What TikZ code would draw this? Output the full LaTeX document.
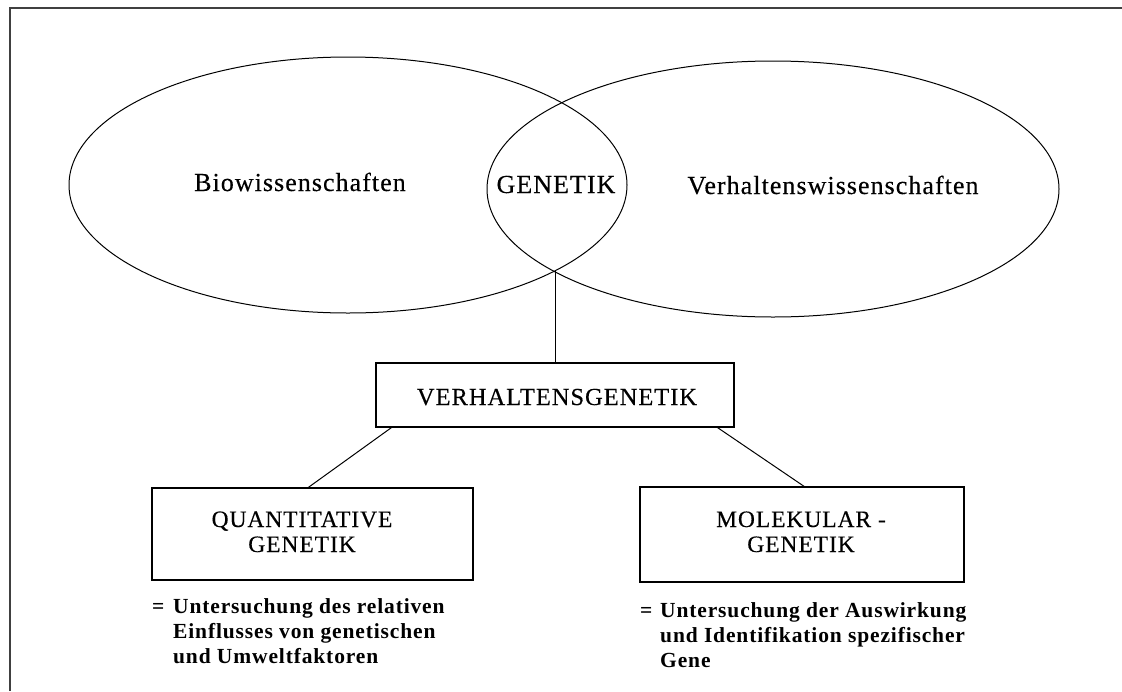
\documentclass[tikz,border=0pt]{standalone}
\usepackage{fontspec}
\setmainfont{Liberation Serif}
\usetikzlibrary{shapes.geometric}
\begin{document}
\begin{tikzpicture}[x=1pt,y=-1pt,
  frame/.style={line width=1.6pt, draw=black!75},
  venn/.style={ellipse, draw, line width=1pt, inner sep=0pt},
  lbl/.style={anchor=base, inner sep=0pt, font=\fontsize{26}{28}\selectfont\addfontfeature{LetterSpace=4,FakeBold=0.3}},
  boxnode/.style={draw, line width=1.4pt, inner sep=0pt},
  boxtext/.style={align=center, inner sep=0pt, font=\fontsize{23.5}{25}\selectfont\addfontfeature{LetterSpace=4,FakeBold=0.3}},
  link/.style={line width=1pt},
  desc/.style={anchor=base west, inner sep=0pt, font=\fontsize{21.5}{25}\selectfont\bfseries\addfontfeature{LetterSpace=4}},
]
\useasboundingbox (0,0) rectangle (1122,691);
% frame (cut off at right and bottom)
\draw[frame] (10,691) -- (10,8) -- (1122,8);

% Venn ellipses
\node[venn, minimum width=558pt, minimum height=256pt] (bio) at (348,185) {};
\node[venn, minimum width=572pt, minimum height=256pt] (verhw) at (773,189) {};
\node[lbl] (biot) at (300,191) {Biowissenschaften};
\node[lbl] (gen) at (556,193) {GENETIK};
\node[lbl] (verhwt) at (833,194) {Verhaltenswissenschaften};
\coordinate (lensbot) at (555,270);

% boxes
\node[boxnode, minimum width=358pt, minimum height=64pt] (vg) at (555,395) {};
\node[boxtext, anchor=base, font=\fontsize{24.5}{25}\selectfont\addfontfeature{LetterSpace=4,FakeBold=0.3}] (vgt) at (557,405) {VERHALTENSGENETIK};
\node[boxnode, minimum width=321pt, minimum height=92pt] (qbox) at (312.5,534) {};
\node[boxtext, anchor=base] (qtext) at (302,552) {QUANTITATIVE\\GENETIK};
\node[boxnode, minimum width=324pt, minimum height=95pt] (mbox) at (802,534.5) {};
\node[boxtext, anchor=base] (mtext) at (801,552) {MOLEKULAR -\\GENETIK};

% connectors
\draw[link] (lensbot) -- (lensbot |- vg.north);
\draw[link] ([xshift=16pt]vg.south west) -- ([xshift=-4pt]qbox.north);
\draw[link] ([xshift=-17pt]vg.south east) -- ([xshift=2pt]mbox.north);

% descriptions
\node[desc] (qdesc) at (152,613) {\begin{tabular}[t]{@{}p{21pt}@{}l@{}}=&Untersuchung des relativen\\ &Einflusses von genetischen\\ &und Umweltfaktoren\end{tabular}};
\node[desc] (mdesc) at (640,617) {\begin{tabular}[t]{@{}p{20pt}@{}l@{}}=&Untersuchung der Auswirkung\\ &und Identifikation spezifischer\\ &Gene\end{tabular}};
\end{tikzpicture}
\end{document}
